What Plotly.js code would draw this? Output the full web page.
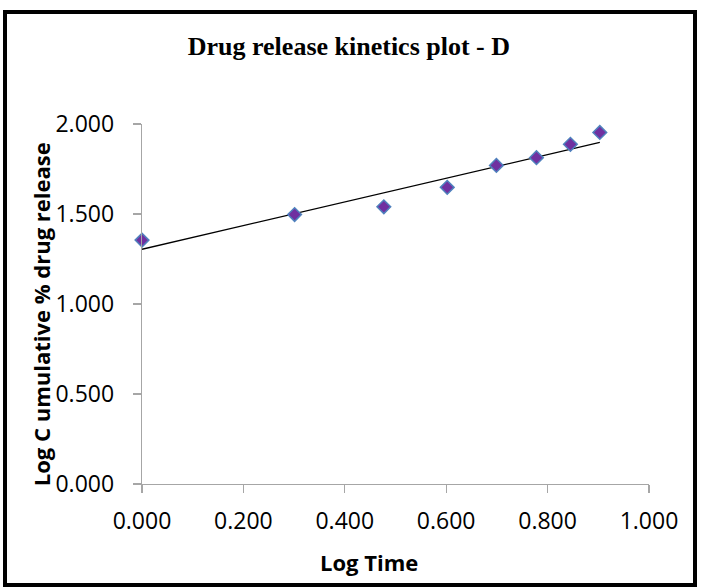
<!DOCTYPE html>
<html>
<head>
<meta charset="utf-8">
<script src="https://cdn.plot.ly/plotly-3.0.1.min.js"></script>
<style>
  html, body { margin: 0; padding: 0; background: #fff; }
  #wrap { position: relative; width: 702px; height: 588px; }
  #chart { position: absolute; left: 0; top: 0; width: 702px; height: 588px; }
  #frame { position: absolute; left: 3px; top: 10px; width: 694px; height: 577px;
           box-sizing: border-box; border: 4px solid #000; pointer-events: none; }
</style>
</head>
<body>
<div id="wrap">
  <div id="chart"></div>
  <div id="frame"></div>
</div>
<script>
// Data
const logTime = [0.000, 0.301, 0.477, 0.602, 0.699, 0.778, 0.845, 0.903];
const logCumRelease = [1.355, 1.497, 1.540, 1.648, 1.770, 1.813, 1.887, 1.953];
const trendX = [0.000, 0.903];
const trendY = [1.304, 1.898];
const xTicks = [0, 0.2, 0.4, 0.6, 0.8, 1.0];
const xTickText = ["0.000", "0.200", "0.400", "0.600", "0.800", "1.000"];
const yTicks = [0, 0.5, 1.0, 1.5, 2.0];
const yTickText = ["0.000", "0.500", "1.000", "1.500", "2.000"];
const chartTitle = "Drug release kinetics plot - D";
const xTitle = "Log Time";
const yTitle = "Log C umulative % drug release";

const traces = [
  {
    x: trendX, y: trendY, mode: 'lines', type: 'scatter',
    line: { color: '#000000', width: 1.3 }, hoverinfo: 'skip', showlegend: false,
    cliponaxis: false
  },
  {
    x: logTime, y: logCumRelease, mode: 'markers', type: 'scatter',
    marker: { symbol: 'diamond', size: 10.5, color: '#7030A0',
              line: { color: '#4F81BD', width: 1.5 } },
    showlegend: false, cliponaxis: false
  }
];

const axisFont = { family: 'Open Sans, sans-serif', size: 23, color: '#000' };
const titleFont = { family: 'Open Sans, sans-serif', size: 22, color: '#000' };

const layout = {
  width: 702, height: 588,
  paper_bgcolor: '#fff', plot_bgcolor: '#fff',
  margin: { l: 142, r: 53, t: 124, b: 104 },
  showlegend: false,
  title: {
    text: '<b>' + chartTitle + '</b>',
    font: { family: 'Liberation Serif, Times New Roman, serif', size: 26, color: '#000' },
    xref: 'container', yref: 'container', x: 0.497, y: 0.922,
    xanchor: 'center', yanchor: 'middle'
  },
  xaxis: {
    range: [0, 1], tickvals: xTicks, ticktext: xTickText,
    showgrid: false, zeroline: false, showline: true,
    linecolor: '#A6A6A6', linewidth: 1.3,
    ticks: 'outside', ticklen: 8, tickcolor: '#A6A6A6', tickwidth: 1.3,
    tickfont: axisFont, ticklabelstandoff: 8,
    fixedrange: true
  },
  yaxis: {
    range: [0, 2], tickvals: yTicks, ticktext: yTickText,
    showgrid: false, zeroline: false, showline: true,
    linecolor: '#A6A6A6', linewidth: 1.3,
    ticks: 'outside', ticklen: 8, tickcolor: '#A6A6A6', tickwidth: 1.3,
    tickfont: axisFont, ticklabelstandoff: 14,
    fixedrange: true
  },
  annotations: [
    {
      text: '<b>' + xTitle + '</b>', font: titleFont, showarrow: false,
      xref: 'paper', yref: 'paper', x: 0.448, y: -0.217,
      xanchor: 'center', yanchor: 'middle'
    },
    {
      text: '<b>' + yTitle + '</b>', font: titleFont, showarrow: false, textangle: -90,
      xref: 'paper', yref: 'paper', x: -0.199, y: 0.472,
      xanchor: 'center', yanchor: 'middle'
    }
  ]
};

Plotly.newPlot('chart', traces, layout, { displayModeBar: false, staticPlot: true });
</script>
</body>
</html>
